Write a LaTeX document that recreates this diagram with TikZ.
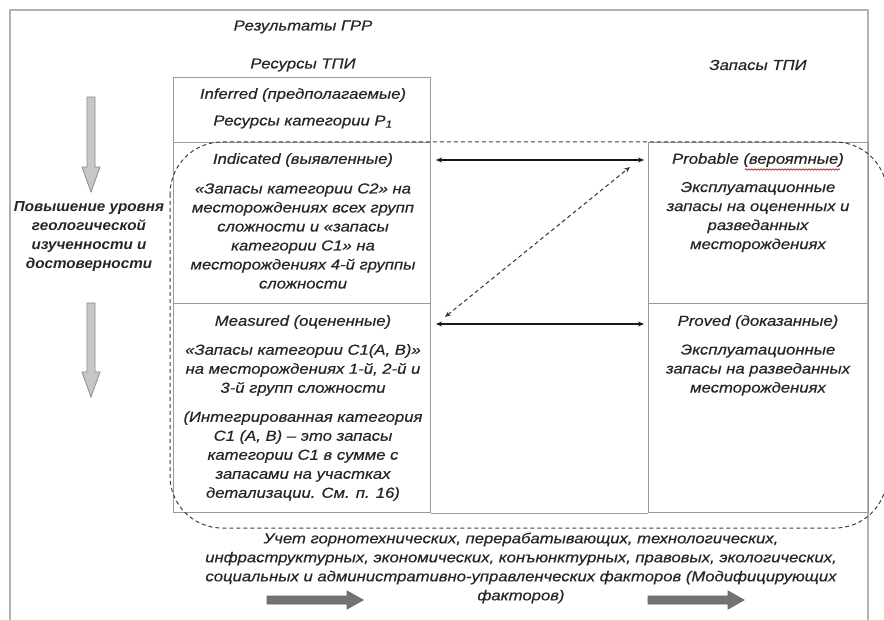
\documentclass[tikz,border=0pt]{standalone}
\usepackage{fontspec}
\setmainfont{Liberation Sans}[FakeStretch=1.15,FakeBold=0.4]
\newfontfamily\labfont{Liberation Sans}[FakeStretch=1.05]
\usetikzlibrary{arrows.meta,decorations.pathmorphing}
\begin{document}
\begin{tikzpicture}[x=1pt,y=-1pt,
  txt/.style={font=\fontsize{14.5}{19}\selectfont\itshape, text=black!85, align=center, inner sep=0pt},
  btxt/.style={txt, font=\labfont\fontsize{14.5}{19}\selectfont\itshape\bfseries},
  cellbox/.style={draw=black!40, line width=1pt, inner sep=0pt, anchor=north west},
  dbl/.style={{Stealth[length=6pt,width=5pt]}-{Stealth[length=6pt,width=5pt]}, line width=1.4pt, black!90},
  dashdbl/.style={{Stealth[length=6pt,width=5pt]}-{Stealth[length=6pt,width=5pt]}, line width=1pt, black!80, dash pattern=on 4pt off 3pt},
  grayarrow/.style={fill=black!22, draw=black!45, line width=0.8pt},
  darkarrow/.style={fill=black!55, draw=black!60, line width=0.8pt}]
\useasboundingbox (0,0) rectangle (884,620);
\fill[white] (0,0) rectangle (884,620);
% outer frame
\draw[black!30, line width=1.6pt] (10,620) -- (10,10) -- (868,10) -- (868,620);
% cells
\node[cellbox, minimum width=257pt, minimum height=65pt] (inf) at (173,77) {};
\node[cellbox, minimum width=257pt, minimum height=161pt] (ind) at (173,142) {};
\node[cellbox, minimum width=257pt, minimum height=209pt] (mea) at (173,303) {};
\node[cellbox, minimum width=220pt, minimum height=161pt] (prob) at (648,142) {};
\node[cellbox, minimum width=220pt, minimum height=209pt] (prov) at (648,303) {};
\draw[black!40, line width=1pt] (mea.south east) -- (prov.south west);
% dashed rounded region
\draw[black!75, line width=1pt, dash pattern=on 4pt off 3pt, rounded corners=52pt] (170,142) rectangle (887,528);
% headings
\node[txt] (hgrr) at (303,27) {Результаты ГРР};
\node[txt] (hres) at (303,65) {Ресурсы ТПИ};
\node[txt] (hzap) at (758,65) {Запасы ТПИ};
% inferred
\node[txt] (tinf) at (303,95) {Inferred (предполагаемые)};
\node[txt] (tp1) at (303,122) {Ресурсы категории P\textsubscript{1}};
% indicated
\node[txt] (tind) at (303,160) {Indicated (выявленные)};
\node[txt] (bind) at (303,236) {«Запасы категории С2» на\\месторождениях всех групп\\сложности и «запасы\\категории С1» на\\месторождениях 4-й группы\\сложности};
% measured
\node[txt] (tmea) at (303,322) {Measured (оцененные)};
\node[txt] (bmea) at (303,370) {«Запасы категории С1(А, В)»\\на месторождениях 1-й, 2-й и\\3-й групп сложности};
\node[txt] (cmea) at (303,456) {(Интегрированная категория\\С1 (А, В) – это запасы\\категории С1 в сумме с\\запасами на участках\\детализации. См. п. 16)};
% probable
\node[txt] (tprob) at (758,160) {Probable (вероятные)};
\draw[red!85!black, line width=0.7pt, decorate, decoration={snake, amplitude=0.7pt, segment length=3pt}] (745,169.5) -- (840,169.5);
\node[txt] (bprob) at (758,217) {Эксплуатационные\\запасы на оцененных и\\разведанных\\месторождениях};
% proved
\node[txt] (tprov) at (758,322) {Proved (доказанные)};
\node[txt] (bprov) at (758,370) {Эксплуатационные\\запасы на разведанных\\месторождениях};
% left label
\node[btxt] (lab) at (89,237) {Повышение уровня\\геологической\\изученности и\\достоверности};
% bottom text
\node[txt] (bot) at (521,568) {Учет горнотехнических, перерабатывающих, технологических,\\инфраструктурных, экономических, конъюнктурных, правовых, экологических,\\социальных и административно-управленческих факторов (Модифицирующих\\факторов)};
% double arrows
\coordinate (a1l) at (436,160); \coordinate (a1r) at (644,160);
\coordinate (a2l) at (436,324); \coordinate (a2r) at (644,324);
\coordinate (d1) at (445,317); \coordinate (d2) at (630,167);
\draw[dbl] (a1l) -- (a1r);
\draw[dbl] (a2l) -- (a2r);
\draw[dashdbl] (d1) -- (d2);
% gray down arrows
\draw[grayarrow] (87,97) -- (95,97) -- (95,167) -- (100,167) -- (91,192) -- (82,167) -- (87,167) -- cycle;
\draw[grayarrow] (87,303) -- (95,303) -- (95,372) -- (100,372) -- (91,397) -- (82,372) -- (87,372) -- cycle;
% dark right arrows
\draw[darkarrow] (267,596) -- (347,596) -- (347,591) -- (363,600) -- (347,609) -- (347,604) -- (267,604) -- cycle;
\draw[darkarrow] (648,596) -- (728,596) -- (728,591) -- (744,600) -- (728,609) -- (728,604) -- (648,604) -- cycle;
\end{tikzpicture}
\end{document}
